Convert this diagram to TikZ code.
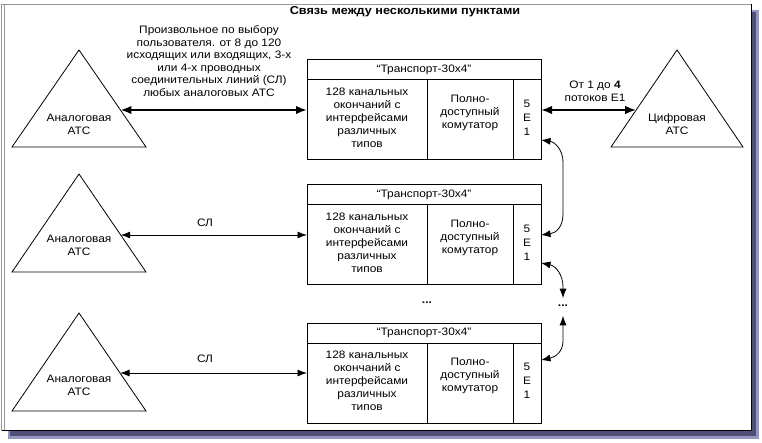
\documentclass[tikz,border=0pt]{standalone}
\usepackage{fontspec}
\setmainfont{Liberation Sans}[FakeStretch=1.1]
\usetikzlibrary{arrows.meta}
\definecolor{shadowA}{RGB}{80,80,118}
\definecolor{shadowB}{RGB}{150,150,190}
\definecolor{frameg}{RGB}{150,150,150}
\newcommand\transbox[2]{%
  \node[tbox] (#1) at (307,#2) {};
  \draw[boxline] ([yshift=-20pt]#1.north west) -- ([yshift=-20pt]#1.north east);
  \draw[boxline] (427,{#2+20}) -- (427,{#2+100});
  \draw[boxline] (513,{#2+20}) -- (513,{#2+100});
  \node[txt] (#1t) at (424,{#2+10}) {“Транспорт-30x4”};
  \node[txt] (#1a) at (367,{#2+58}) {128 канальных\\окончаний с\\интерфейсами\\различных\\типов};
  \node[txt] (#1b) at (470,{#2+53}) {Полно-\\доступный\\комутатор};
  \node[txt, font=\fontsize{10.8}{14}\selectfont] (#1c) at (527,{#2+58}) {5\\Е\\1};
}
\begin{document}
\begin{tikzpicture}[x=1pt,y=-1pt,
  every node/.style={inner sep=0pt, outer sep=0pt},
  txt/.style={font=\fontsize{10.8}{13}\selectfont, align=center},
  tbox/.style={draw, line width=1pt, minimum width=234pt, minimum height=100pt, anchor=north west},
  boxline/.style={line width=1pt},
  tri/.style={draw, line width=0.8pt, line join=miter},
  thickarrow/.style={line width=2pt, {Latex[length=11pt,width=8.5pt]}-{Latex[length=11pt,width=8.5pt]}},
  thinarrow/.style={line width=0.9pt, {Latex[length=9.5pt,width=7pt]}-{Latex[length=9.5pt,width=7pt]}},
  curvearrow/.style={line width=0.8pt, {Latex[length=9.5pt,width=7pt]}-{Latex[length=9.5pt,width=7pt]}}
]
\useasboundingbox (0,0) rectangle (762,443);
% frame and shadow
\fill[shadowB] (752,10) rectangle (759,439);
\fill[shadowB] (8,431) rectangle (759,439);
\fill[shadowA] (752,12) rectangle (756,436);
\fill[shadowA] (10,431) rectangle (756,436);
\fill[white] (1,4) rectangle (751,430.5);
\draw[frameg, line width=1pt] (1.5,431) -- (1.5,4.5) -- (751,4.5);
\draw[frameg, line width=1pt] (4.5,431) -- (4.5,5);
\draw[black, line width=1pt] (751,4.5) -- (751,430.5) -- (1.5,430.5);

% title
\node[font=\bfseries\fontsize{11.5}{13}\selectfont] (title) at (405,12) {Связь между несколькими пунктами};

% triangles
\draw[tri] (79,50) -- (146,147) -- (12,147) -- cycle;
\draw[tri] (79,174) -- (146,272) -- (12,272) -- cycle;
\draw[tri] (79,313) -- (146,411) -- (12,411) -- cycle;
\draw[tri] (677,50) -- (743,147) -- (611,147) -- cycle;
\coordinate (t1e) at (120.4,110);
\coordinate (t2e) at (120.7,235);
\coordinate (t3e) at (120.1,373);
\coordinate (t4w) at (636.2,110);
\node[txt] (t1txt) at (79,124) {Аналоговая\\АТС};
\node[txt] (t2txt) at (79,245) {Аналоговая\\АТС};
\node[txt] (t3txt) at (79,385) {Аналоговая\\АТС};
\node[txt] (t4txt) at (677,124) {Цифровая\\АТС};

% boxes
\transbox{b1}{60}
\transbox{b2}{185}
\transbox{b3}{323}

% labels
\node[txt, font=\fontsize{10.8}{12.6}\selectfont] (lbl1) at (209,61) {Произвольное по выбору\\пользователя. от 8 до 120\\исходящих или входящих, 3-х\\или 4-х проводных\\соединительных линий (СЛ)\\любых аналоговых АТС};
\node[txt, font=\fontsize{10.8}{12.6}\selectfont] (lbl4) at (595,91) {От 1 до \textbf{4}\\потоков Е1};
\node[txt] (lbl2) at (205,223) {СЛ};
\node[txt] (lbl3) at (205,359) {СЛ};
\node[font=\bfseries\fontsize{11}{13}\selectfont] (dotsL) at (427,303) {...};
\node[font=\bfseries\fontsize{11}{13}\selectfont] (dotsR) at (563,306) {...};

% connectors
\draw[thickarrow] (t1e) -- (b1.west);
\draw[thickarrow] (b1.east) -- (t4w);
\draw[thinarrow] (t2e) -- (b2.west);
\draw[thinarrow] (t3e) -- (b3.west);

\coordinate (c1a) at ([yshift=20pt]b1.south east);
\coordinate (c2a) at ([yshift=22pt]b2.south east);
\coordinate (c3a) at ([yshift=-37pt]b3.north east);
\coordinate (dRn) at ([yshift=7pt]dotsR.north);
\coordinate (dRs) at ([yshift=-9pt]dotsR.south);
\draw[curvearrow] (c1a) .. controls (555,142) and (563,150) .. (563,162) -- (563,214) .. controls (563,227) and (556,233) .. (b2.east);
\draw[curvearrow] (c2a) .. controls (556,266) and (563,275) .. (563,287) -- (dRn);
\draw[curvearrow] (dRs) -- (563,341) .. controls (563,351) and (556,357) .. (c3a);
\end{tikzpicture}
\end{document}
